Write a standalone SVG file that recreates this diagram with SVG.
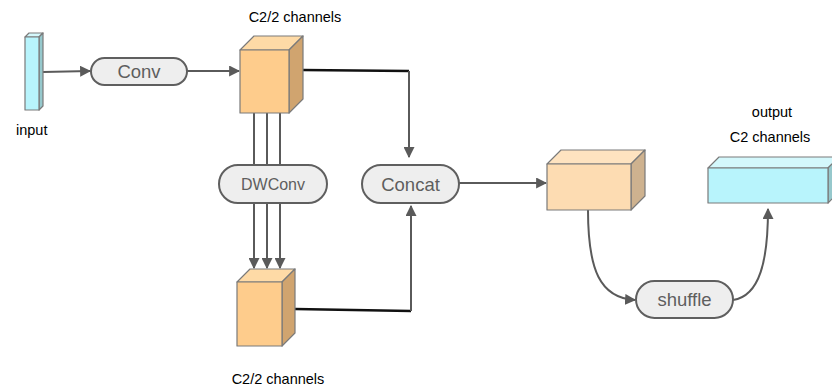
<svg xmlns="http://www.w3.org/2000/svg" width="832" height="387" viewBox="0 0 832 387">
  <style>
    .lbl { font-family: "Liberation Sans", Arial, sans-serif; font-size: 14.5px; fill: #000; }
    .op rect { fill: #eeeeee; stroke: #5f5f5f; stroke-width: 2; }
    .op text { font-family: "Liberation Sans", Arial, sans-serif; fill: #5e5e5e; text-anchor: middle; }
    .face { stroke: #7a7a7a; stroke-width: 1.2; stroke-linejoin: round; }
    .wire { fill: none; stroke: #5a5a5a; stroke-width: 2; }
    .dark { fill: none; stroke: #111; stroke-width: 2.5; }
  </style>
  <defs>
    <marker id="ah" viewBox="0 0 10 10" refX="9" refY="5" markerWidth="5.5" markerHeight="5.5" orient="auto" markerUnits="strokeWidth">
      <path d="M0,0 L10,5 L0,10 z" fill="#5a5a5a"/>
    </marker>
  </defs>

  <!-- connectors -->
  <g id="connectors">
    <line class="wire" x1="43" y1="72" x2="90" y2="71" marker-end="url(#ah)"/>
    <line class="wire" x1="187" y1="71" x2="239" y2="71" marker-end="url(#ah)"/>
    <!-- top branch to concat -->
    <polyline class="dark" points="302,70 409,71"/>
    <line class="wire" x1="409" y1="71" x2="409" y2="157" marker-end="url(#ah)"/>
    <!-- three lanes through DWConv -->
    <line class="wire" x1="254" y1="113" x2="254" y2="165"/>
    <line class="wire" x1="267" y1="113" x2="267" y2="165"/>
    <line class="wire" x1="280" y1="113" x2="280" y2="165"/>
    <line class="wire" x1="254" y1="203" x2="254" y2="268" marker-end="url(#ah)"/>
    <line class="wire" x1="267" y1="203" x2="267" y2="268" marker-end="url(#ah)"/>
    <line class="wire" x1="280" y1="203" x2="280" y2="268" marker-end="url(#ah)"/>
    <!-- bottom branch to concat -->
    <polyline class="dark" points="295,309 411,311"/>
    <line class="wire" x1="411" y1="311" x2="411" y2="206" marker-end="url(#ah)"/>
    <!-- concat to merged tensor -->
    <line class="wire" x1="459" y1="183" x2="546" y2="183" marker-end="url(#ah)"/>
    <!-- shuffle loop -->
    <path class="wire" d="M588,210 C588,270 600,298 635,300" marker-end="url(#ah)"/>
    <path class="wire" d="M733,300 C760,296 768,260 768,209" marker-end="url(#ah)"/>
  </g>

  <!-- input tensor -->
  <g id="input">
    <polygon class="face" points="25,37 29,33 43,33 39,37" fill="#d4f8fc"/>
    <polygon class="face" points="39,37 43,33 43,106 39,110" fill="#96c8cc"/>
    <rect class="face" x="25" y="37" width="14" height="73" fill="#b8f4fc"/>
    <text class="lbl" x="16" y="135">input</text>
  </g>

  <g id="conv" class="op">
    <rect x="91" y="58" width="96" height="27" rx="13.5"/>
    <text x="139" y="78" font-size="18.5">Conv</text>
  </g>

  <!-- upper half tensor -->
  <g id="half-top">
    <polygon class="face" points="240,50 254,36 303,36 289,50" fill="#fedaa6"/>
    <polygon class="face" points="289,50 303,36 303,99 289,113" fill="#d0a46f"/>
    <rect class="face" x="240" y="50" width="49" height="63" fill="#fecc8c"/>
    <text class="lbl" x="295" y="22" text-anchor="middle">C2/2 channels</text>
  </g>

  <g id="dwconv" class="op">
    <rect x="219" y="165" width="108" height="38" rx="19"/>
    <text x="273" y="190" font-size="16">DWConv</text>
  </g>

  <g id="concat" class="op">
    <rect x="362" y="165" width="97" height="38" rx="19"/>
    <text x="410.5" y="191" font-size="18.5">Concat</text>
  </g>

  <!-- lower half tensor -->
  <g id="half-bottom">
    <polygon class="face" points="237,282 250,269 295,269 282,282" fill="#fedaa6"/>
    <polygon class="face" points="282,282 295,269 295,333 282,346" fill="#d0a46f"/>
    <rect class="face" x="237" y="282" width="45" height="64" fill="#fecc8c"/>
    <text class="lbl" x="278" y="384" text-anchor="middle">C2/2 channels</text>
  </g>

  <!-- merged tensor -->
  <g id="merged">
    <polygon class="face" points="547,164 561,150 645,150 631,164" fill="#fee3c0"/>
    <polygon class="face" points="631,164 645,150 645,196 631,210" fill="#ceb28f"/>
    <rect class="face" x="547" y="164" width="84" height="46" fill="#fddcb2"/>
  </g>

  <g id="shuffle" class="op">
    <rect x="636" y="281" width="97" height="37" rx="18.5"/>
    <text x="684.5" y="306" font-size="18.5">shuffle</text>
  </g>

  <!-- output tensor -->
  <g id="output">
    <polygon class="face" points="708,168 719,157 839,157 828,168" fill="#d4f8fc"/>
    <polygon class="face" points="828,168 839,157 839,192 828,203" fill="#96c8cc"/>
    <rect class="face" x="708" y="168" width="120" height="35" fill="#b8f4fc"/>
    <text class="lbl" x="772" y="117" text-anchor="middle">output</text>
    <text class="lbl" x="770" y="142" text-anchor="middle">C2 channels</text>
  </g>
</svg>
